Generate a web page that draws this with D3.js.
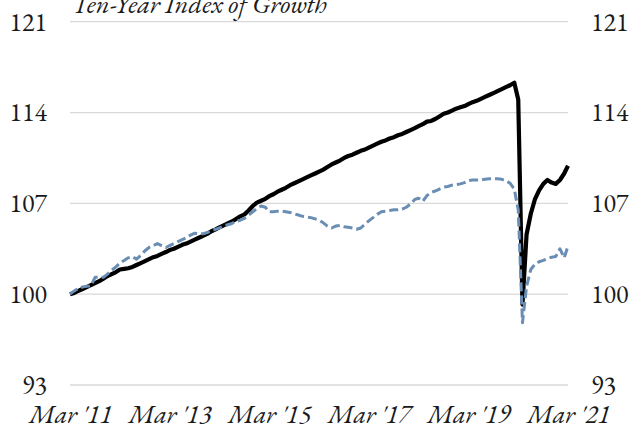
<!DOCTYPE html>
<html>
<head>
<meta charset="utf-8">
<script src="https://cdnjs.cloudflare.com/ajax/libs/d3/7.8.5/d3.min.js"></script>
<style>
  body { margin: 0; background: #fff; }
  svg { display: block; }
</style>
</head>
<body>
<div id="chart"></div>
<script>
// monthly index, Mar 2011 = 100
const startMonth = "2011-03"
const endMonth = "2021-03"

const solidSeries = [
  100.0, 100.1, 100.25, 100.4, 100.55, 100.7, 100.85, 101.0, 101.2, 101.4, 101.55, 101.7,
  101.9, 101.95, 102.0, 102.1, 102.25, 102.4, 102.55, 102.7, 102.85, 102.95, 103.1, 103.25,
  103.4, 103.5, 103.65, 103.8, 103.9, 104.05, 104.2, 104.35, 104.5, 104.65, 104.85, 105.0,
  105.15, 105.3, 105.45, 105.6, 105.8, 106.0, 106.15, 106.45, 106.8, 107.05, 107.2, 107.35,
  107.55, 107.7, 107.9, 108.05, 108.2, 108.4, 108.55, 108.7, 108.85, 109.0, 109.15, 109.3,
  109.45, 109.6, 109.8, 110.0, 110.15, 110.3, 110.5, 110.65, 110.75, 110.9, 111.05, 111.15,
  111.3, 111.45, 111.6, 111.75, 111.85, 112.0, 112.1, 112.25, 112.35, 112.5, 112.65, 112.8,
  112.95, 113.1, 113.3, 113.35, 113.5, 113.7, 113.9, 114.0, 114.15, 114.3, 114.4, 114.5,
  114.65, 114.8, 114.9, 115.05, 115.2, 115.35, 115.5, 115.65, 115.8, 115.95, 116.1, 116.3,
  115.0, 99.2, 104.6, 106.2, 107.3, 108.0, 108.5, 108.8, 108.6, 108.5, 108.8, 109.3,
  109.9
]

const dashedSeries = [
  100.0, 100.25, 100.45, 100.55, 100.6, 100.65, 101.3, 101.3, 101.3, 101.55, 101.85, 102.1,
  102.4, 102.6, 102.8, 102.9, 102.7, 103.0, 103.35, 103.6, 103.75, 103.9, 103.75, 103.6,
  103.75, 103.9, 104.05, 104.2, 104.35, 104.55, 104.7, 104.65, 104.65, 104.75, 104.9, 105.0,
  105.1, 105.25, 105.35, 105.45, 105.6, 105.7, 105.85, 106.1, 106.35, 106.6, 106.8, 106.7,
  106.35, 106.35, 106.4, 106.4, 106.35, 106.3, 106.2, 106.1, 106.0, 105.95, 105.9, 105.8,
  105.7, 105.5, 105.25, 105.1, 105.25, 105.3, 105.2, 105.15, 105.1, 105.0, 105.1, 105.4,
  105.65, 105.9, 106.15, 106.35, 106.4, 106.45, 106.5, 106.5, 106.55, 106.7, 106.95, 107.3,
  107.4, 107.15, 107.6, 107.85, 107.95, 108.1, 108.25, 108.3, 108.4, 108.45, 108.5, 108.6,
  108.75, 108.8, 108.8, 108.8, 108.85, 108.9, 108.9, 108.9, 108.85, 108.75, 108.55, 108.1,
  106.5, 97.8, 100.6, 101.9, 102.3, 102.5, 102.6, 102.75, 102.85, 102.9, 103.5, 102.8,
  103.7
]

const yTicks = [93, 100, 107, 114, 121]
const xTickMonths = ["2011-03", "2013-03", "2015-03", "2017-03", "2019-03", "2021-03"]
const xTickLabels = ["Mar '11", "Mar '13", "Mar '15", "Mar '17", "Mar '19", "Mar '21"]
const title = "Ten-Year Index of Growth"

const font = '"EB Garamond"'

const parseMonth = d3.timeParse("%Y-%m")
const months = d3.timeMonth.range(parseMonth(startMonth), d3.timeMonth.offset(parseMonth(endMonth), 1))

const width = 629, height = 430
const margin = { top: 21.7, right: 61, bottom: 45, left: 70 }

const svg = d3.select("#chart")
  .append("svg")
  .attr("width", width)
  .attr("height", height)

const x = d3.scaleTime()
  .domain([parseMonth(startMonth), parseMonth(endMonth)])
  .range([margin.left, width - margin.right])

const y = d3.scaleLinear()
  .domain([93, 121])
  .range([height - margin.bottom, margin.top])

// gridlines
svg.append("g")
  .selectAll("line")
  .data(yTicks)
  .join("line")
  .attr("x1", x.range()[0])
  .attr("x2", x.range()[1])
  .attr("y1", d => y(d))
  .attr("y2", d => y(d))
  .attr("stroke", "#d9d9d9")
  .attr("stroke-width", 1.3)

// left and right value axes
const leftAxis = svg.append("g")
  .attr("transform", `translate(${margin.left},0)`)
  .call(d3.axisLeft(y).tickValues(yTicks).tickSize(0).tickPadding(23).tickFormat(d3.format("d")))
const rightAxis = svg.append("g")
  .attr("transform", `translate(${width - margin.right},0)`)
  .call(d3.axisRight(y).tickValues(yTicks).tickSize(0).tickPadding(23).tickFormat(d3.format("d")))

// time axis
const xAxis = svg.append("g")
  .attr("transform", `translate(0,${height - margin.bottom})`)
  .call(d3.axisBottom(x)
    .tickValues(xTickMonths.map(parseMonth))
    .tickSize(0)
    .tickPadding(20)
    .tickFormat((d, i) => xTickLabels[i]))

for (const g of [leftAxis, rightAxis, xAxis]) {
  g.select(".domain").remove()
  g.selectAll("text")
    .attr("fill", "#1a1a1a")
    .style("font-family", font)
    .style("font-size", "26px")
}
xAxis.selectAll("text").style("font-style", "italic")

const line = d3.line()
  .x((d, i) => x(months[i]))
  .y(d => y(d))

svg.append("path")
  .datum(solidSeries)
  .attr("d", line)
  .attr("fill", "none")
  .attr("stroke", "#000")
  .attr("stroke-width", 4.2)
  .attr("stroke-linejoin", "round")

svg.append("path")
  .datum(dashedSeries)
  .attr("d", line)
  .attr("fill", "none")
  .attr("stroke", "#6a8db3")
  .attr("stroke-width", 3)
  .attr("stroke-dasharray", "9,4")
  .attr("stroke-linejoin", "round")

svg.append("text")
  .attr("x", 72)
  .attr("y", 12.5)
  .attr("fill", "#1a1a1a")
  .style("font-family", font)
  .style("font-style", "italic")
  .style("font-size", "26.5px")
  .text(title)
</script>
</body>
</html>
